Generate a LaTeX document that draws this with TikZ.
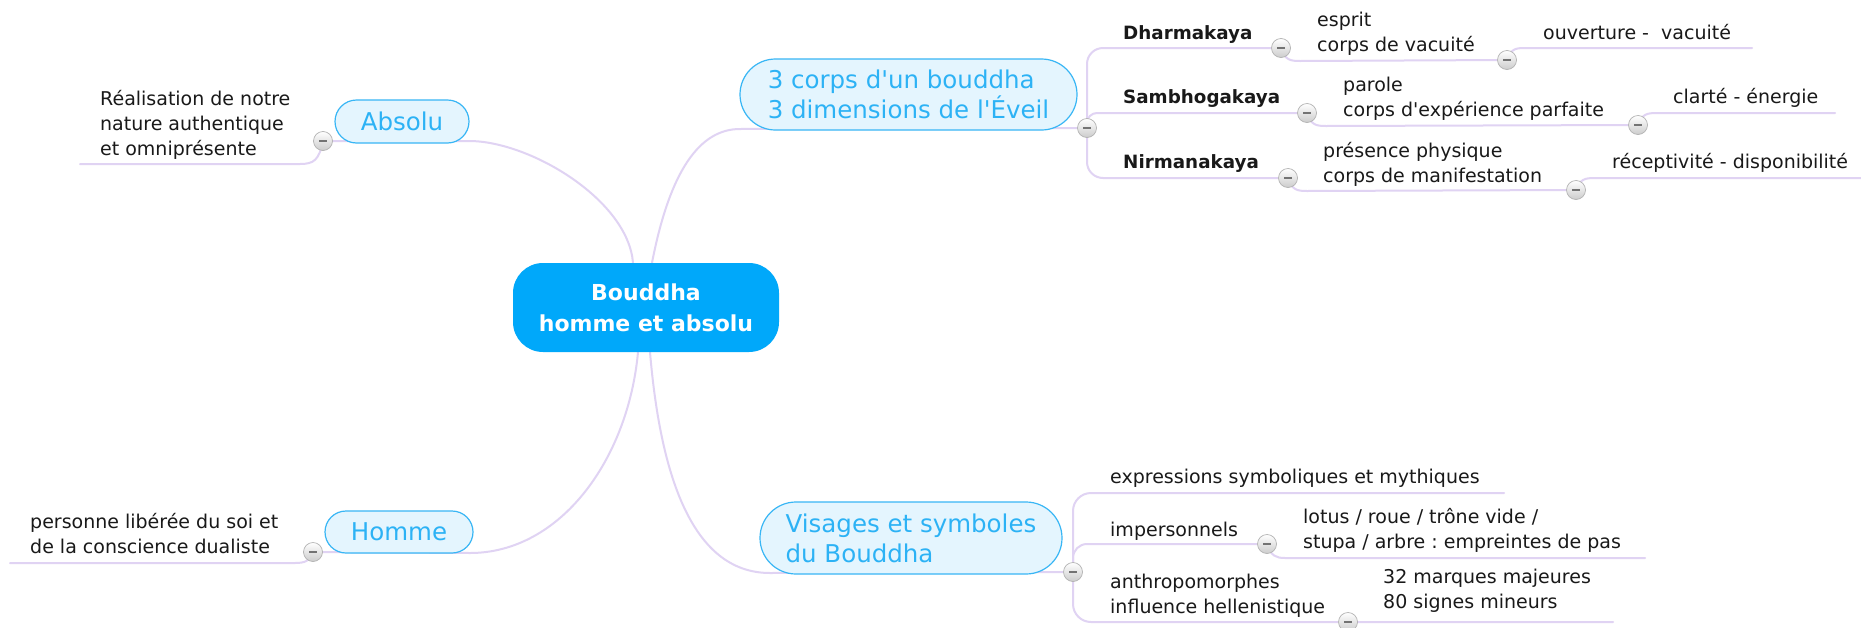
\documentclass[tikz,border=0pt]{standalone}
\usepackage{fontspec}
\newfontfamily\dvs{DejaVu Sans}
\usetikzlibrary{shapes.misc}
\definecolor{linec}{RGB}{224,211,243}
\definecolor{rootc}{RGB}{0,168,250}
\definecolor{topfill}{RGB}{228,245,254}
\definecolor{topdraw}{RGB}{56,182,245}
\definecolor{toptext}{RGB}{44,178,245}
\definecolor{txtc}{RGB}{25,25,25}
\newcommand{\mlines}[1]{\begin{tabular}[t]{@{}l@{}}#1\end{tabular}}
\pgfdeclarelayer{bg}
\pgfsetlayers{bg,main}
\frenchspacing
\begin{document}
\begin{tikzpicture}[x=1pt,y=-1pt,
  conn/.style={draw=linec, line width=2pt, line cap=round},
  rootbox/.style={rectangle, rounded corners=30pt, fill=rootc, text=white, align=center, inner sep=0pt,
    font=\dvs\fontsize{22}{31}\selectfont\bfseries},
  topic/.style={rounded rectangle, draw=topdraw, fill=topfill, line width=1.2pt, text=toptext,
    font=\dvs\fontsize{24.5}{30}\selectfont, inner sep=0pt, align=left},
  leaf/.style={anchor=base west, inner sep=0pt, text=txtc, font=\dvs\fontsize{19}{25}\selectfont\frenchspacing},
  leafb/.style={leaf, font=\dvs\fontsize{18.3}{25}\selectfont\bfseries},
  knob/.style={circle, minimum size=19pt, inner sep=0pt, draw=black!30, line width=0.7pt,
    top color=white, bottom color=black!20,
    path picture={\draw[line width=1.8pt, black!55]
      ([xshift=-4pt]path picture bounding box.center) -- ([xshift=4pt]path picture bounding box.center);}}
]
\useasboundingbox (0,0) rectangle (1861,627);

% knob positions
\coordinate (kA) at (323,141);
\coordinate (kH) at (313,552);
\coordinate (kT) at (1087,128);
\coordinate (kV) at (1073,572);
\coordinate (kD) at (1281,48);
\coordinate (kD2) at (1507,60);
\coordinate (kS) at (1307,113);
\coordinate (kS2) at (1638,125);
\coordinate (kN) at (1288,178);
\coordinate (kN2) at (1576,190);
\coordinate (kI) at (1267,544);
\coordinate (kP) at (1348,622);
% free line ends
\coordinate (eD) at (1752,48);
\coordinate (eS) at (1835,113);
\coordinate (eN) at (1861,178);
\coordinate (eE) at (1504,493);
\coordinate (eI) at (1645,558);
\coordinate (eP) at (1613,622);
\coordinate (eA) at (80,164);
\coordinate (eH) at (10,563);

% main nodes
\node[rootbox, minimum width=266pt, minimum height=89pt] (root) at (646,307.5) {Bouddha\\homme et absolu};
\node[topic, minimum width=134pt, minimum height=43pt] (absolu) at (402,121.5) {Absolu};
\node[topic, minimum width=148pt, minimum height=42pt] (homme) at (399,532) {Homme};
\node[topic, minimum width=337pt, minimum height=71pt] (corps) at (908.5,94.5) {3 corps d'un bouddha\\3 dimensions de l'Éveil};
\node[topic, minimum width=302pt, minimum height=72pt] (visages) at (911,538) {Visages et symboles\\du Bouddha};

% leaves
\node[leaf] (tA) at (100,105) {\mlines{Réalisation de notre\\nature authentique\\et omniprésente}};
\node[leaf] (tH) at (30,528) {\mlines{personne libérée du soi et\\de la conscience dualiste}};
\node[leafb] (tD) at (1123,39) {Dharmakaya};
\node[leaf] (tD2) at (1317,26) {\mlines{esprit\\corps de vacuité}};
\node[leaf] (tD3) at (1543,39) {ouverture -\ \ vacuité};
\node[leafb] (tS) at (1123,103) {Sambhogakaya};
\node[leaf] (tS2) at (1343,91) {\mlines{parole\\corps d'expérience parfaite}};
\node[leaf] (tS3) at (1673,103) {clarté - énergie};
\node[leafb] (tN) at (1123,168) {Nirmanakaya};
\node[leaf] (tN2) at (1323,157) {\mlines{présence physique\\corps de manifestation}};
\node[leaf] (tN3) at (1612,168) {réceptivité - disponibilité};
\node[leaf] (tE) at (1110,483) {expressions symboliques et mythiques};
\node[leaf] (tI) at (1110,536) {impersonnels};
\node[leaf] (tI2) at (1303,523) {\mlines{lotus / roue / trône vide /\\stupa / arbre : empreintes de pas}};
\node[leaf] (tP) at (1110,588) {\mlines{anthropomorphes\\influence hellenistique}};
\node[leaf] (tP2) at (1383,583) {\mlines{32 marques majeures\\80 signes mineurs}};

% knobs
\node[knob] (nA) at (kA) {};
\node[knob] (nH) at (kH) {};
\node[knob] (nT) at (kT) {};
\node[knob] (nV) at (kV) {};
\node[knob] (nD) at (kD) {};
\node[knob] (nD2) at (kD2) {};
\node[knob] (nS) at (kS) {};
\node[knob] (nS2) at (kS2) {};
\node[knob] (nN) at (kN) {};
\node[knob] (nN2) at (kN2) {};
\node[knob] (nI) at (kI) {};
\node[knob] (nP) at (kP) {};

\begin{pgfonlayer}{bg}
\fill[white] (0,0) rectangle (1861,627);
% root to topics
\draw[conn] (kA) -- (469,141) .. controls (530,141) and (628,200) .. ([xshift=-13pt]root.north);
\draw[conn] (kH) -- (470,553) .. controls (560,553) and (628,460) .. ([xshift=-8pt]root.south);
\draw[conn] ([xshift=6pt]root.north) .. controls (670,170) and (700,129) .. (740,129) -- (kT);
\draw[conn] ([xshift=4pt]root.south) .. controls (660,470) and (690,573) .. (770,573) -- (kV);
% topic children
\draw[conn] (kA) .. controls (319,160) and (314,164) .. (300,164) -- (eA);
\draw[conn] (kH) .. controls (310,561) and (305,563) .. (295,563) -- (eH);
\draw[conn, rounded corners=16pt] (kT) |- (kD);
\draw[conn, rounded corners=10pt] (kT) |- (kS);
\draw[conn, rounded corners=16pt] (kT) |- (kN);
\draw[conn] (kD) .. controls (1285,60) and (1290,61) .. (1300,61) -- (kD2);
\draw[conn] (kD2) .. controls (1511,49) and (1515,48) .. (1525,48) -- (eD);
\draw[conn] (kS) .. controls (1311,125) and (1316,126) .. (1326,126) -- (kS2);
\draw[conn] (kS2) .. controls (1642,114) and (1647,113) .. (1657,113) -- (eS);
\draw[conn] (kN) .. controls (1292,190) and (1297,191) .. (1307,191) -- (kN2);
\draw[conn] (kN2) .. controls (1580,179) and (1585,178) .. (1595,178) -- (eN);
\draw[conn, rounded corners=18pt] (kV) |- (eE);
\draw[conn, rounded corners=14pt] (kV) |- (kI);
\draw[conn, rounded corners=18pt] (kV) |- (kP) -- (eP);
\draw[conn] (kI) .. controls (1271,556) and (1276,558) .. (1285,558) -- (eI);
\end{pgfonlayer}
\end{tikzpicture}
\end{document}
